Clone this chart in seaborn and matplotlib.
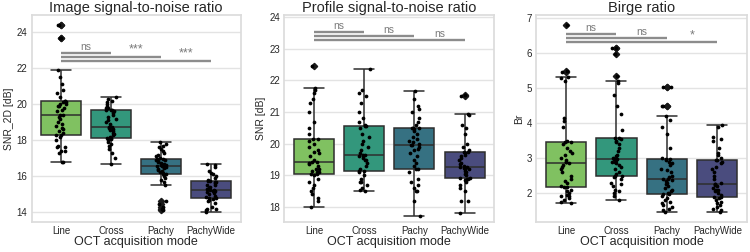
import numpy as np
import pandas as pd
import seaborn as sns
import matplotlib.pyplot as plt
from matplotlib.transforms import blended_transform_factory

np.random.seed(3)

modes = ['Line', 'Cross', 'Pachy', 'PachyWide']

# Image SNR (SNR_2D) per acquisition mode
snr2d_line = [16.8, 16.8, 17.3, 17.4, 17.4, 17.6, 17.6, 17.7, 18.0, 18.2, 18.3, 18.3,
              18.4, 18.5, 18.6, 18.7, 18.8, 18.9, 19.0, 19.2, 19.3, 19.4, 19.4,
              19.6, 19.7, 19.8, 19.9, 19.9, 20.0, 20.0, 20.1, 20.1, 20.2, 20.2,
              20.4, 20.6, 20.8, 21.1, 21.5, 21.9, 23.7, 23.7, 24.4, 24.4]
snr2d_cross = [16.7, 17.0, 17.3, 17.5, 17.7, 17.8, 17.9, 18.0, 18.05, 18.1, 18.1,
               18.2, 18.3, 18.35, 18.4, 18.5, 18.55, 18.6, 18.7, 18.75, 18.75,
               18.9, 19.0, 19.1, 19.2, 19.3, 19.4, 19.5, 19.6, 19.67, 19.67,
               19.7, 19.8, 19.8, 19.9, 20.0, 20.1, 20.2, 20.3, 20.4]
snr2d_pachy = [14.1, 14.2, 14.3, 14.45, 14.6, 15.5, 15.7, 15.8, 15.9, 16.0, 16.1, 16.1,
               16.2, 16.25, 16.3, 16.35, 16.4, 16.45, 16.5, 16.5, 16.55, 16.55, 16.55,
               16.6, 16.6, 16.65, 16.7, 16.75, 16.8, 16.85, 16.9, 16.9, 16.95, 16.95,
               17.0, 17.1, 17.2, 17.3, 17.4, 17.5, 17.6, 17.7, 17.8, 17.9]
snr2d_wide = [14.0, 14.1, 14.2, 14.2, 14.3, 14.5, 14.6, 14.7, 14.75, 14.8, 14.8,
              14.85, 14.9, 15.0, 15.05, 15.1, 15.15, 15.2, 15.2, 15.25, 15.25,
              15.3, 15.35, 15.4, 15.5, 15.5, 15.6, 15.65, 15.7, 15.72, 15.72,
              15.8, 15.9, 16.0, 16.1, 16.2, 16.3, 16.5, 16.6, 16.7]

# Profile SNR
snr_line = [18.0, 18.2, 18.3, 18.4, 18.5, 18.6, 18.7, 18.8, 18.9, 19.0, 19.04, 19.05,
            19.1, 19.1, 19.15, 19.2, 19.2, 19.3, 19.35, 19.4, 19.42, 19.42,
            19.5, 19.6, 19.7, 19.75, 19.8, 19.9, 20.0, 20.1, 20.14, 20.14,
            20.3, 20.5, 20.7, 21.0, 21.3, 21.4, 21.6, 21.7, 21.75, 22.45]
snr_cross = [18.52, 18.55, 18.6, 18.7, 18.8, 18.8, 18.9, 19.0, 19.1, 19.14, 19.14,
             19.2, 19.3, 19.4, 19.5, 19.5, 19.55, 19.6, 19.6, 19.65, 19.65,
             19.7, 19.8, 19.9, 20.0, 20.1, 20.2, 20.3, 20.5, 20.56, 20.56,
             20.6, 20.7, 20.8, 21.0, 21.3, 21.5, 21.6, 21.7, 22.36]
snr_pachy = [17.72, 18.2, 18.5, 18.5, 18.6, 18.7, 18.8, 18.9, 19.1, 19.21, 19.21,
             19.3, 19.4, 19.5, 19.6, 19.7, 19.8, 19.85, 19.9, 19.96, 19.96,
             20.0, 20.05, 20.1, 20.15, 20.2, 20.3, 20.4, 20.45, 20.49, 20.49,
             20.5, 20.6, 20.7, 20.8, 21.0, 21.1, 21.2, 21.4, 21.67]
snr_wide = [17.83, 18.2, 18.2, 18.5, 18.6, 18.7, 18.8, 18.85, 18.9, 18.9, 18.93, 18.93,
            19.0, 19.05, 19.1, 19.15, 19.2, 19.2, 19.25, 19.25, 19.28, 19.28,
            19.3, 19.35, 19.4, 19.5, 19.55, 19.6, 19.65, 19.7, 19.74, 19.74,
            19.8, 19.9, 20.0, 20.3, 20.5, 20.6, 20.9, 20.94, 21.5, 21.55]

# Birge ratio
br_line = [1.71, 1.75, 1.8, 1.85, 1.9, 1.9, 1.95, 2.0, 2.05, 2.1, 2.16, 2.16,
           2.2, 2.3, 2.35, 2.4, 2.5, 2.6, 2.7, 2.75, 2.8, 2.85,
           2.9, 2.9, 2.95, 3.0, 3.1, 3.15, 3.2, 3.3, 3.4, 3.46, 3.46,
           3.5, 3.9, 4.05, 4.15, 5.2, 5.3, 5.31, 5.47, 5.49, 6.8]
br_cross = [1.8, 1.9, 2.0, 2.05, 2.1, 2.2, 2.25, 2.3, 2.4, 2.45, 2.49, 2.49,
            2.55, 2.6, 2.7, 2.75, 2.8, 2.85, 2.9, 2.9, 2.95, 2.96, 2.96,
            3.0, 3.05, 3.1, 3.2, 3.3, 3.4, 3.45, 3.5, 3.55, 3.58, 3.58,
            3.8, 4.25, 4.5, 4.8, 5.15, 5.2, 5.34, 5.97, 6.15, 6.15]
br_pachy = [1.45, 1.5, 1.55, 1.6, 1.65, 1.7, 1.75, 1.8, 1.85, 1.9, 1.97, 1.97,
            2.0, 2.05, 2.1, 2.15, 2.2, 2.25, 2.3, 2.35, 2.37, 2.39, 2.39,
            2.45, 2.5, 2.6, 2.65, 2.7, 2.8, 2.85, 2.9, 2.95, 2.96, 2.96,
            3.0, 3.3, 3.7, 3.9, 4.1, 4.2, 4.48, 4.5, 5.02, 5.02]
br_wide = [1.47, 1.5, 1.55, 1.6, 1.65, 1.7, 1.75, 1.8, 1.85, 1.88, 1.88,
           1.95, 2.0, 2.05, 2.1, 2.1, 2.15, 2.2, 2.22, 2.26, 2.26,
           2.3, 2.4, 2.5, 2.6, 2.7, 2.75, 2.85, 2.9, 2.94, 2.94,
           3.0, 3.1, 3.15, 3.3, 3.5, 3.55, 3.6, 3.9, 3.94]

titles = ['Image signal-to-noise ratio', 'Profile signal-to-noise ratio', 'Birge ratio']
ylabels = ['SNR_2D [dB]', 'SNR [dB]', 'Br']
pvals = [['ns', '***', '***'], ['ns', 'ns', 'ns'], ['ns', 'ns', '*']]


def long_df(groups):
    rows = []
    for m, vals in zip(modes, groups):
        rows += [(m, v) for v in vals]
    return pd.DataFrame(rows, columns=['mode', 'value'])


data = [long_df([snr2d_line, snr2d_cross, snr2d_pachy, snr2d_wide]),
        long_df([snr_line, snr_cross, snr_pachy, snr_wide]),
        long_df([br_line, br_cross, br_pachy, br_wide])]

sns.set_theme(style='whitegrid')
plt.rcParams['font.family'] = ['Liberation Sans', 'DejaVu Sans']

fig = plt.figure(figsize=(7.5, 2.52), dpi=100)
axes = [fig.add_axes([0.042, 0.119, 0.279, 0.821]),
        fig.add_axes([0.379, 0.119, 0.280, 0.821]),
        fig.add_axes([0.715, 0.119, 0.281, 0.821])]

ylims = [(13.45, 24.95), (17.53, 24.06), (1.17, 7.09)]
yticks = [[14, 16, 18, 20, 22, 24], [18, 19, 20, 21, 22, 23, 24], [2, 3, 4, 5, 6, 7]]
top_line = [0.818, 0.919, 0.908]   # axes fraction of first bracket
pal = sns.color_palette('viridis_r', 4)

for i, ax in enumerate(axes):
    df = data[i]
    sns.boxplot(data=df, x='mode', y='value', hue='mode', palette=pal, legend=False,
                ax=ax, linecolor='.18', linewidth=1.1, fliersize=3.2,
                flierprops={'marker': 'D', 'markerfacecolor': '.1', 'markeredgecolor': '.1'})
    sns.stripplot(data=df, x='mode', y='value', color='black', size=2.7, jitter=0.11, ax=ax)
    ax.set_ylim(*ylims[i])
    ax.set_yticks(yticks[i])
    ax.set_title(titles[i], fontsize=10.5, pad=2)
    ax.set_ylabel(ylabels[i], fontsize=7.5, labelpad=2)
    ax.set_xlabel('OCT acquisition mode', fontsize=9, labelpad=0)
    ax.tick_params(axis='both', labelsize=7, pad=3, length=0)
    ax.grid(axis='y', color='#e3e3e3')
    for s in ax.spines.values():
        s.set_color('#dcdcdc')
    trans = blended_transform_factory(ax.transData, ax.transAxes)
    for k, target in enumerate([1, 2, 3]):
        yl = top_line[i] - 0.019 * k
        ax.plot([0, target], [yl, yl], color='#8c8c8c', lw=1.7, transform=trans,
                clip_on=False, solid_capstyle='butt')
        label = pvals[i][k]
        fs = 9 if '*' in label else 7.5
        ax.text(target - 0.5, yl + 0.004, label, transform=trans, ha='center',
                va='bottom', fontsize=fs, color='#7a7a7a')

fig.savefig('out.png', dpi=100)
